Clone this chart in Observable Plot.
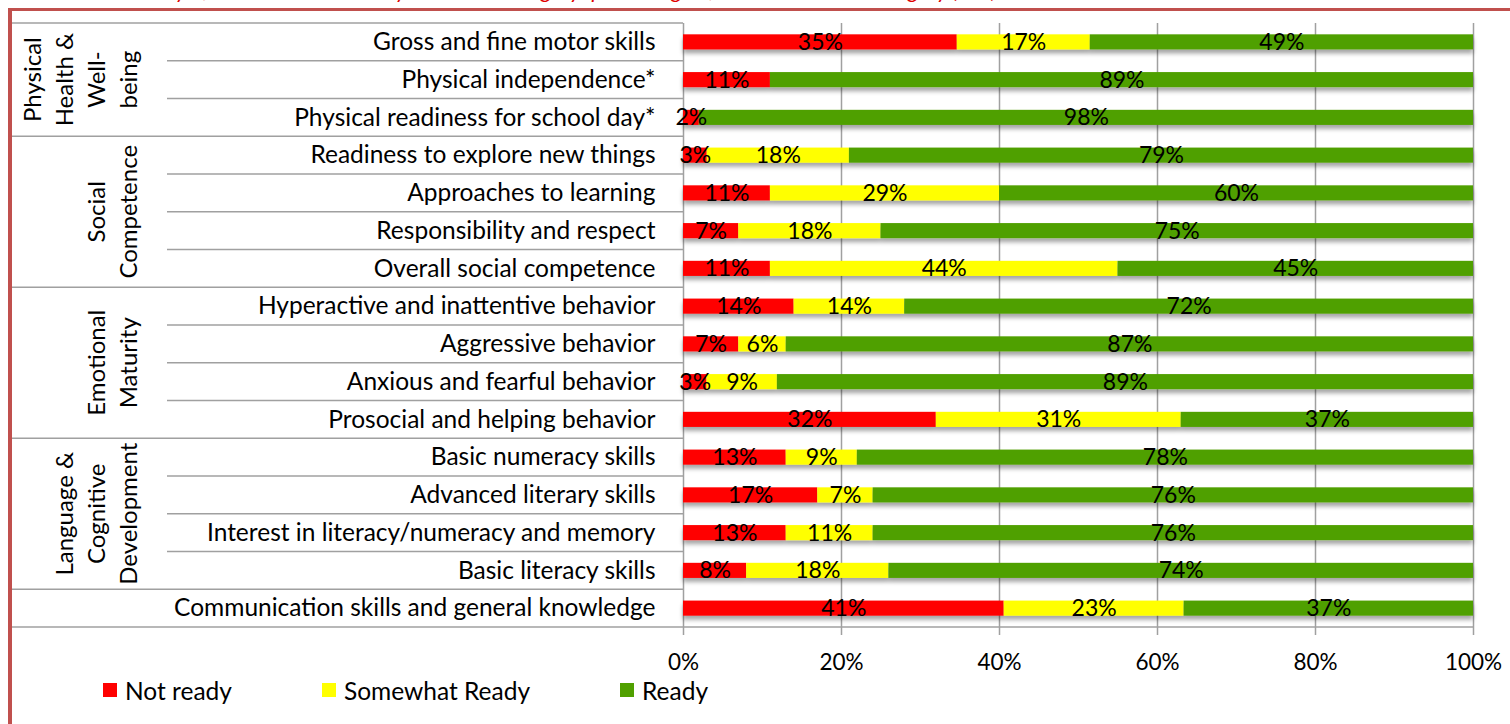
<!DOCTYPE html>
<html>
<head>
<meta charset="utf-8">
<script src="https://cdn.jsdelivr.net/npm/d3@7"></script>
<script src="https://cdn.jsdelivr.net/npm/@observablehq/plot@0.6"></script>
<style>
  html, body { margin: 0; padding: 0; background: #fff; width: 1510px; height: 724px; overflow: hidden; font-family: Lato, sans-serif; }
  #title { position: absolute; left: 100px; top: -21px; color: #e00000; font-style: italic; font-size: 22px; line-height: 22px; white-space: nowrap; }
  #chart { position: absolute; left: 0; top: 0; }
  #frame { position: absolute; left: 8px; top: 8px; width: 1600px; height: 800px; border-left: 4px solid #c0504d; border-top: 3px solid #c0504d; box-sizing: border-box; pointer-events: none; }
  #legend { position: absolute; left: 0; top: 677px; width: 1510px; height: 26px; font-size: 24.5px; color: #000; }
  .li { position: absolute; top: 0; display: flex; align-items: center; height: 26px; white-space: nowrap; }
  .sw { width: 14px; height: 14px; margin-right: 8px; }
</style>
</head>
<body>
<div id="title">Summary of subdomain results by readiness category: percentage of children in each category (EDI)</div>
<div id="chart"></div>
<div id="frame"></div>
<div id="legend"></div>
<script>
// ---- data ----
const items = [
  "Gross and fine motor skills",
  "Physical independence*",
  "Physical readiness for school day*",
  "Readiness to explore new things",
  "Approaches to learning",
  "Responsibility and respect",
  "Overall social competence",
  "Hyperactive and inattentive behavior",
  "Aggressive behavior",
  "Anxious and fearful behavior",
  "Prosocial and helping behavior",
  "Basic numeracy skills",
  "Advanced literary skills",
  "Interest in literacy/numeracy and memory",
  "Basic literacy skills",
  "Communication skills and general knowledge"
];
const notReady = [35, 11, 2, 3, 11, 7, 11, 14, 7, 3, 32, 13, 17, 13, 8, 41];
const somewhatReady = [17, 0, 0, 18, 29, 18, 44, 14, 6, 9, 31, 9, 7, 11, 18, 23];
const ready = [49, 89, 98, 79, 60, 75, 45, 72, 87, 89, 37, 78, 76, 76, 74, 37];
const categories = ["Not ready", "Somewhat Ready", "Ready"];
const colors = ["#ff0000", "#ffff00", "#50a000"];
const groupNames = [
  ["Physical", "Health &", "Well-", "being"],
  ["Social", "Competence"],
  ["Emotional", "Maturity"],
  ["Language &", "Cognitive", "Development"],
  []
];
const groupSizes = [3, 4, 4, 4, 1];
const xTicks = [0, 0.2, 0.4, 0.6, 0.8, 1];

// ---- table for Plot ----
const series = [notReady, somewhatReady, ready];
const rows = [];
items.forEach((item, i) => {
  categories.forEach((cat, c) => {
    if (series[c][i] > 0) rows.push({item, cat, value: series[c][i]});
  });
});

const FONT = "Lato, sans-serif";
const plot = Plot.plot({
  width: 1510,
  height: 675,
  marginLeft: 683,
  marginRight: 37,
  marginTop: 23,
  marginBottom: 48,
  style: { fontFamily: FONT, fontSize: "24.5px", color: "#000", background: "transparent", overflow: "visible" },
  x: { domain: [0, 1], ticks: xTicks, tickFormat: d3.format(".0%"), tickSize: 0, tickPadding: 27, label: null },
  y: { domain: items, paddingInner: 0.6, paddingOuter: 0.3, round: false, tickSize: 0, tickPadding: 28, label: null },
  color: { domain: categories, range: colors },
  marks: [
    Plot.ruleX(xTicks, { x: d => d, stroke: "#a0a0a0", strokeWidth: 1.5, insetBottom: -8 }),
    Plot.barX(rows, Plot.stackX({ x: "value", y: "item", fill: "cat", z: "cat", offset: "normalize" })),
    Plot.text(rows, Plot.stackX({ x: "value", y: "item", z: "cat", offset: "normalize", text: d => d.value + "%", fill: "#000", fontSize: 23 }))
  ]
});
document.getElementById("chart").appendChild(plot);
// numeric tick labels a bit smaller than the row labels
d3.select(plot).selectAll('[aria-label^="x-axis"] text').attr("font-size", 22.5);

// ---- table lines and group labels, positioned via the plot's scales ----
const ysd = plot.scale("y");
const xsd = plot.scale("x");
const yb = d3.scaleBand(ysd.domain, ysd.range)
  .paddingInner(ysd.paddingInner).paddingOuter(ysd.paddingOuter).align(ysd.align ?? 0.5);
const xs = d3.scaleLinear(xsd.domain, xsd.range);
const step = yb.step();
const rowTop = it => yb(it) + yb.bandwidth() / 2 - step / 2;
const rowBottom = it => rowTop(it) + step;

const svg = d3.select(plot);
// shadow under the bars
const defs = svg.insert("defs", ":first-child");
const f = defs.append("filter").attr("id", "barShadow").attr("x", "-2%").attr("y", "-40%").attr("width", "104%").attr("height", "220%");
f.append("feDropShadow").attr("dx", 0).attr("dy", 4).attr("stdDeviation", 2.2).attr("flood-color", "#000").attr("flood-opacity", 0.35);
svg.selectAll('g[aria-label="bar"]').attr("filter", "url(#barShadow)");

const tableLeft = 12, groupRight = 167, xAxis0 = xs(0), xAxis1 = xs(1);
const lines = svg.append("g").attr("stroke", "#a0a0a0").attr("stroke-width", 1.6);
lines.append("line").attr("x1", tableLeft).attr("x2", xAxis0).attr("y1", rowTop(items[0])).attr("y2", rowTop(items[0]));
let idx = 0;
const labels = svg.append("g").attr("font-family", FONT).attr("font-size", 24).attr("fill", "#000");
groupSizes.forEach((n, g) => {
  const first = items[idx], last = items[idx + n - 1];
  for (let k = 0; k < n; k++) {
    const it = items[idx + k];
    const yy = rowBottom(it);
    const isEnd = k === n - 1;
    const isLast = idx + k === items.length - 1;
    lines.append("line")
      .attr("x1", isEnd ? tableLeft : groupRight)
      .attr("x2", isLast ? xAxis1 : xAxis0)
      .attr("y1", yy).attr("y2", yy);
  }
  const cy = (rowTop(first) + rowBottom(last)) / 2;
  const nl = groupNames[g].length;
  groupNames[g].forEach((t, j) => {
    const cx = 127 - (nl - 1 - j) * 32;
    labels.append("text")
      .attr("transform", `translate(${cx},${cy}) rotate(-90)`)
      .attr("text-anchor", "middle")
      .attr("dominant-baseline", "central")
      .text(t);
  });
  idx += n;
});

// ---- legend ----
const legendX = [103, 322, 620];
const legend = d3.select("#legend");
categories.forEach((c, i) => {
  const li = legend.append("div").attr("class", "li").style("left", legendX[i] + "px");
  li.append("div").attr("class", "sw").style("background", colors[i]);
  li.append("span").text(c);
});
</script>
</body>
</html>
